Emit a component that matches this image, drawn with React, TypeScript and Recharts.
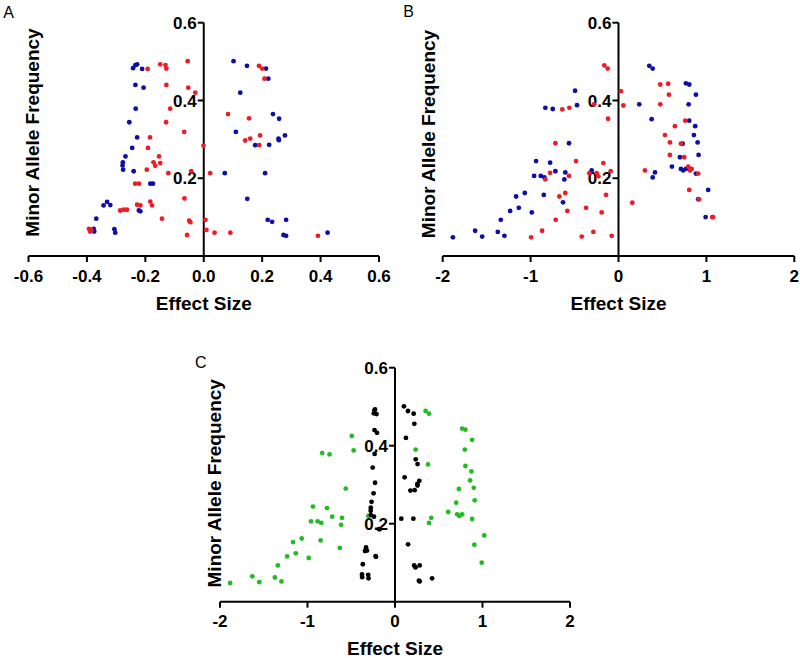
import { ScatterChart, Scatter, XAxis, YAxis, ReferenceLine } from 'recharts'

const FONT = '"Liberation Sans", Arial, Helvetica, sans-serif'

type Pair = [number, number]

// [effect size, minor allele frequency]
const blueA: Pair[] = [
  [-0.242, 0.483], [-0.234, 0.491], [-0.228, 0.493], [-0.211, 0.481], [-0.234, 0.44], [-0.206, 0.433],
  [-0.233, 0.379], [-0.255, 0.344], [-0.228, 0.305], [-0.245, 0.278], [-0.268, 0.256], [-0.277, 0.241],
  [-0.278, 0.233], [-0.276, 0.222], [-0.24, 0.218], [-0.183, 0.186], [-0.174, 0.186], [-0.343, 0.13],
  [-0.331, 0.139], [-0.32, 0.131], [-0.222, 0.117], [-0.217, 0.115], [-0.368, 0.096], [-0.377, 0.07],
  [-0.375, 0.063], [-0.306, 0.069], [-0.303, 0.06],
  [0.102, 0.501], [0.148, 0.489], [0.213, 0.482], [0.221, 0.456], [0.125, 0.42], [0.237, 0.365],
  [0.258, 0.353], [0.11, 0.319], [0.176, 0.285], [0.224, 0.286], [0.256, 0.302], [0.257, 0.298],
  [0.278, 0.31], [0.072, 0.213], [0.21, 0.213], [0.149, 0.147], [0.219, 0.093], [0.234, 0.088],
  [0.282, 0.093], [0.273, 0.054], [0.282, 0.052], [0.424, 0.06],
]

const redA: Pair[] = [
  [-0.192, 0.481], [-0.149, 0.493], [-0.131, 0.491], [-0.128, 0.482], [-0.055, 0.501], [-0.128, 0.44],
  [-0.053, 0.433], [-0.029, 0.42], [-0.115, 0.379], [-0.129, 0.344], [-0.067, 0.319], [-0.184, 0.305],
  [-0.191, 0.278], [-0.001, 0.284], [-0.153, 0.256], [-0.172, 0.241], [-0.166, 0.232], [-0.149, 0.239],
  [-0.195, 0.222], [-0.121, 0.213], [-0.043, 0.218], [0.022, 0.213], [-0.235, 0.186], [-0.222, 0.186],
  [-0.066, 0.148], [-0.228, 0.132], [-0.217, 0.13], [-0.183, 0.14], [-0.177, 0.13], [-0.286, 0.117],
  [-0.274, 0.119], [-0.263, 0.119], [-0.143, 0.096], [-0.05, 0.091], [-0.046, 0.087], [0.006, 0.093],
  [-0.393, 0.07], [-0.389, 0.063], [-0.385, 0.067], [0.009, 0.067], [0.037, 0.06], [-0.057, 0.054],
  [0.091, 0.06], [0.083, 0.365], [0.155, 0.354], [0.142, 0.297], [0.159, 0.302], [0.193, 0.31],
  [0.19, 0.285], [0.189, 0.489], [0.2, 0.482], [0.208, 0.456], [0.391, 0.052],
]

const blueB: Pair[] = [
  [-1.884, 0.048], [-1.631, 0.065], [-1.551, 0.05], [-1.373, 0.062], [-1.298, 0.052], [-1.339, 0.093],
  [-1.233, 0.116], [-1.134, 0.124], [-1.165, 0.153], [-1.066, 0.162], [-0.986, 0.112], [-0.85, 0.157],
  [-0.631, 0.138], [-0.96, 0.206], [-0.884, 0.206], [-0.843, 0.202], [-0.938, 0.244], [-0.778, 0.24],
  [-0.718, 0.218], [-0.616, 0.197], [-0.605, 0.215], [-0.563, 0.29], [-0.832, 0.381], [-0.748, 0.378],
  [-0.494, 0.425], [-0.472, 0.388], [-0.305, 0.22],
  [0.35, 0.489], [0.389, 0.482], [0.236, 0.39], [0.377, 0.352], [0.415, 0.215], [0.389, 0.202],
  [0.608, 0.23], [0.767, 0.444], [0.805, 0.441], [0.881, 0.415], [0.798, 0.39], [0.805, 0.348],
  [0.873, 0.334], [0.858, 0.311], [0.9, 0.292], [0.73, 0.289], [0.699, 0.254], [0.911, 0.26],
  [0.71, 0.224], [0.736, 0.22], [0.767, 0.224], [0.881, 0.212], [1.02, 0.17], [0.907, 0.146],
  [0.991, 0.1],
]

const redB: Pair[] = [
  [-0.994, 0.048], [-0.869, 0.065], [-0.714, 0.093], [-0.582, 0.116], [-0.673, 0.153], [-0.605, 0.162],
  [-0.369, 0.124], [-0.286, 0.062], [-0.418, 0.05], [-0.191, 0.112], [-0.142, 0.157], [-0.077, 0.052],
  [-0.778, 0.214], [-0.832, 0.197], [-0.563, 0.206], [-0.483, 0.244], [-0.718, 0.29], [-0.639, 0.377],
  [-0.559, 0.381], [-0.278, 0.39], [-0.119, 0.353], [-0.161, 0.49], [-0.123, 0.482], [0.028, 0.424],
  [0.055, 0.387], [-0.332, 0.213], [-0.248, 0.213], [-0.23, 0.205], [-0.089, 0.218], [-0.173, 0.239],
  [0.157, 0.137], [0.301, 0.22], [0.475, 0.441], [0.566, 0.443], [0.574, 0.415], [0.475, 0.39],
  [0.642, 0.334], [0.528, 0.311], [0.585, 0.292], [0.71, 0.289], [0.759, 0.348], [0.585, 0.26],
  [0.748, 0.254], [0.793, 0.23], [0.813, 0.22], [0.832, 0.224], [0.805, 0.17], [0.907, 0.212],
  [0.915, 0.146], [1.066, 0.1], [1.077, 0.1],
]

// panel C shows the same SNPs as the blue sets above
const blackC: Pair[] = blueA
const greenC: Pair[] = blueB

const yTicks = [0.2, 0.4, 0.6]
const yTickLabels = ['0.2', '0.4', '0.6']
const xTicksA = [-0.6, -0.4, -0.2, 0, 0.2, 0.4, 0.6]
const xTicksB = [-2, -1, 0, 1, 2]

const X_AXIS_H = 30

type Box = { left: number; top: number; width: number; height: number }
type Plot = { left: number; right: number; top: number; bottom: number }

interface PanelProps {
  letter: string
  letterPos: [number, number]
  box: Box
  plot: Plot
  xDomain: [number, number]
  xTicks: number[]
  xFmt: (v: number) => string
  series: { data: Pair[]; color: string }[]
  yTitlePos: [number, number]
  xTitleBaseline: number
  tickBaseline: number
}

const toPts = (arr: Pair[]) => arr.map(([x, y]) => ({ x, y }))

function Panel(p: PanelProps) {
  const { box, plot } = p
  const ox = box.left
  const oy = box.top
  const margin = {
    top: plot.top - box.top,
    right: box.left + box.width - plot.right,
    bottom: box.top + box.height - plot.bottom - X_AXIS_H,
    left: 0,
  }
  // 6px tick marks on the y axis, in data units
  const tickLen = (6 * (p.xDomain[1] - p.xDomain[0])) / (plot.right - plot.left)
  const bold = { fontFamily: FONT, fontWeight: 700, fill: '#000' }

  const yTitle = () => {
    const [tx, ty] = [p.yTitlePos[0] - ox, p.yTitlePos[1] - oy]
    return (
      <g>
        <text x={tx} y={ty} transform={`rotate(-90 ${tx} ${ty})`} textAnchor="middle" fontSize={19} {...bold}>
          Minor Allele Frequency
        </text>
        <text x={p.letterPos[0] - ox} y={p.letterPos[1] - oy} fontSize={16} fontFamily={FONT} fill="#000">
          {p.letter}
        </text>
      </g>
    )
  }

  return (
    <div style={{ position: 'absolute', left: box.left, top: box.top }}>
      <ScatterChart width={box.width} height={box.height} margin={margin}>
        <XAxis
          type="number"
          dataKey="x"
          domain={p.xDomain}
          ticks={p.xTicks}
          interval={0}
          height={X_AXIS_H}
          allowDataOverflow
          axisLine={{ stroke: '#000', strokeWidth: 2 }}
          tickLine={{ stroke: '#000', strokeWidth: 2 }}
          tickSize={6}
          tick={(t: any) => (
            <text x={t.x} y={p.tickBaseline - oy} textAnchor="middle" fontSize={17} {...bold}>
              {p.xFmt(t.payload.value)}
            </text>
          )}
          label={() => (
            <text
              x={(plot.left + plot.right) / 2 - ox}
              y={p.xTitleBaseline - oy}
              textAnchor="middle"
              fontSize={19}
              {...bold}
            >
              Effect Size
            </text>
          )}
        />
        <YAxis
          type="number"
          dataKey="y"
          domain={[0, 0.6]}
          ticks={yTicks}
          width={plot.left - box.left}
          allowDataOverflow
          tick={false}
          tickLine={false}
          axisLine={false}
          label={yTitle}
        />
        <ReferenceLine segment={[{ x: 0, y: 0 }, { x: 0, y: 0.6 }]} stroke="#000" strokeWidth={2} />
        {yTicks.map((t, i) => (
          <ReferenceLine
            key={t}
            segment={[{ x: -tickLen, y: t }, { x: 0, y: t }]}
            stroke="#000"
            strokeWidth={2}
            label={(lp: any) => (
              <text x={lp.viewBox.x - 1} y={lp.viewBox.y} dy="0.36em" textAnchor="end" fontSize={17} {...bold}>
                {yTickLabels[i]}
              </text>
            )}
          />
        ))}
        {p.series.map((s, i) => (
          <Scatter
            key={i}
            data={toPts(s.data)}
            isAnimationActive={false}
            shape={(sp: any) => <circle cx={sp.cx} cy={sp.cy} r={2.4} fill={s.color} />}
          />
        ))}
      </ScatterChart>
    </div>
  )
}

const BLUE = '#0d0da8'
const RED = '#ee1c25'
const GREEN = '#22bb22'

export default function App() {
  return (
    <div style={{ position: 'absolute', left: 0, top: 0, width: 800, height: 658, background: '#fff' }}>
      <Panel
        letter="A"
        letterPos={[3.3, 18.3]}
        box={{ left: 0, top: 0, width: 400, height: 320 }}
        plot={{ left: 28.5, right: 379, top: 22.7, bottom: 256 }}
        xDomain={[-0.6, 0.6]}
        xTicks={xTicksA}
        xFmt={(v) => v.toFixed(1)}
        series={[
          { data: blueA, color: BLUE },
          { data: redA, color: RED },
        ]}
        yTitlePos={[38.5, 132.5]}
        xTitleBaseline={309.5}
        tickBaseline={281.7}
      />
      <Panel
        letter="B"
        letterPos={[403.3, 16.7]}
        box={{ left: 400, top: 0, width: 400, height: 320 }}
        plot={{ left: 442.7, right: 794.3, top: 22.7, bottom: 256 }}
        xDomain={[-2, 2]}
        xTicks={xTicksB}
        xFmt={(v) => String(v)}
        series={[
          { data: blueB, color: BLUE },
          { data: redB, color: RED },
        ]}
        yTitlePos={[435.2, 134]}
        xTitleBaseline={310}
        tickBaseline={281.7}
      />
      <Panel
        letter="C"
        letterPos={[195, 368.3]}
        box={{ left: 190, top: 320, width: 410, height: 338 }}
        plot={{ left: 220, right: 570, top: 367.7, bottom: 601.7 }}
        xDomain={[-2, 2]}
        xTicks={xTicksB}
        xFmt={(v) => String(v)}
        series={[
          { data: greenC, color: GREEN },
          { data: blackC, color: '#000' },
        ]}
        yTitlePos={[221.5, 483.3]}
        xTitleBaseline={655}
        tickBaseline={627}
      />
    </div>
  )
}
